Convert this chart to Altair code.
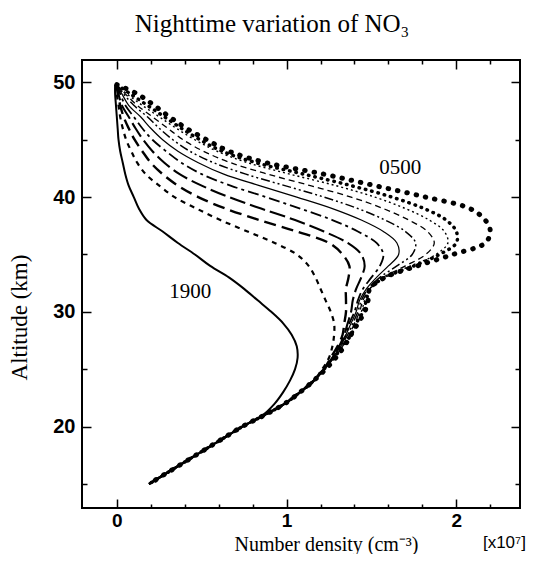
import altair as alt
import pandas as pd

# ---- data ----
series = ["1900", "2000", "2100", "2200", "2300", "0000", "0100", "0200", "0300", "0400", "0500"]

alt_upper = [49.8, 49, 48, 47, 46, 45, 44, 43, 42, 41, 40, 39, 38, 37, 36, 35, 34, 33, 32, 31, 30, 29, 28, 27, 26, 25]
alt_lower = [24, 23, 22, 21, 20, 19, 18, 17, 16, 15]

# number density (x 1e7 cm^-3) at alt_upper
n1900 = [-0.01, -0.01, -0.005, 0.0, 0.005, 0.01, 0.02, 0.035, 0.05, 0.07, 0.10, 0.13, 0.175, 0.27, 0.36, 0.46, 0.55, 0.66, 0.75, 0.83, 0.91, 0.98, 1.03, 1.06, 1.065, 1.05]
n2000 = [0.0, 0.0, 0.01, 0.02, 0.035, 0.055, 0.085, 0.12, 0.17, 0.25, 0.34, 0.47, 0.61, 0.77, 0.93, 1.06, 1.13, 1.17, 1.20, 1.23, 1.26, 1.28, 1.28, 1.27, 1.25, 1.21]
n2100 = [0.0, 0.005, 0.02, 0.04, 0.07, 0.105, 0.15, 0.20, 0.27, 0.36, 0.48, 0.64, 0.84, 1.06, 1.25, 1.33, 1.37, 1.365, 1.35, 1.35, 1.35, 1.34, 1.33, 1.30, 1.26, 1.22]
n2200 = [0.0, 0.01, 0.03, 0.07, 0.11, 0.155, 0.21, 0.28, 0.37, 0.50, 0.66, 0.85, 1.05, 1.22, 1.36, 1.44, 1.46, 1.44, 1.41, 1.39, 1.38, 1.36, 1.34, 1.31, 1.27, 1.22]
n2300 = [0.0, 0.02, 0.05, 0.10, 0.15, 0.21, 0.29, 0.38, 0.50, 0.67, 0.88, 1.08, 1.27, 1.42, 1.53, 1.57, 1.55, 1.50, 1.45, 1.42, 1.40, 1.37, 1.35, 1.31, 1.27, 1.22]
n0000 = [0.0, 0.03, 0.07, 0.14, 0.20, 0.27, 0.36, 0.48, 0.63, 0.84, 1.06, 1.27, 1.44, 1.57, 1.65, 1.66, 1.60, 1.53, 1.47, 1.43, 1.41, 1.38, 1.35, 1.32, 1.27, 1.22]
n0100 = [0.0, 0.04, 0.10, 0.18, 0.25, 0.33, 0.43, 0.57, 0.76, 0.99, 1.22, 1.42, 1.58, 1.70, 1.76, 1.74, 1.65, 1.55, 1.48, 1.44, 1.42, 1.39, 1.36, 1.32, 1.28, 1.22]
n0200 = [0.0, 0.05, 0.12, 0.21, 0.30, 0.39, 0.51, 0.67, 0.89, 1.14, 1.38, 1.57, 1.72, 1.83, 1.87, 1.82, 1.70, 1.57, 1.49, 1.45, 1.43, 1.40, 1.37, 1.33, 1.28, 1.22]
n0300 = [0.0, 0.06, 0.15, 0.25, 0.35, 0.46, 0.59, 0.77, 1.02, 1.29, 1.52, 1.70, 1.84, 1.93, 1.95, 1.88, 1.73, 1.58, 1.49, 1.46, 1.44, 1.40, 1.37, 1.33, 1.28, 1.22]
n0400 = [0.0, 0.08, 0.18, 0.28, 0.38, 0.49, 0.62, 0.82, 1.10, 1.38, 1.62, 1.81, 1.94, 2.00, 2.00, 1.90, 1.75, 1.58, 1.49, 1.47, 1.45, 1.41, 1.38, 1.33, 1.28, 1.22]
n0500 = [0.0, 0.12, 0.22, 0.31, 0.41, 0.53, 0.66, 0.88, 1.22, 1.52, 1.82, 2.08, 2.17, 2.20, 2.17, 1.98, 1.77, 1.58, 1.49, 1.48, 1.46, 1.42, 1.38, 1.34, 1.29, 1.23]

# lower part (alt_lower)
n1900_lower = [1.02, 0.98, 0.93, 0.86, 0.74, 0.63, 0.52, 0.41, 0.30, 0.19]
common_lower = [1.16, 1.08, 0.99, 0.87, 0.74, 0.63, 0.52, 0.41, 0.30, 0.19]

upper = [n1900, n2000, n2100, n2200, n2300, n0000, n0100, n0200, n0300, n0400, n0500]

x_ticks = [0, 1, 2]
x_minor = [0.0, 0.2, 0.4, 0.6, 0.8, 1.0, 1.2, 1.4, 1.6, 1.8, 2.0, 2.2]
y_ticks = [20, 30, 40, 50]
y_minor = [15, 20, 25, 30, 35, 40, 45, 50]

curve_labels = ["1900", "0500"]
curve_label_x = [0.433, 1.67]
curve_label_y = [31.7, 42.57]

# ---- build table ----
rows = []
for name, up in zip(series, upper):
    low = n1900_lower if name == "1900" else common_lower
    for i, (a, v) in enumerate(zip(alt_upper + alt_lower, up + low)):
        rows.append({"series": name, "idx": i, "km": a, "n": v})
df = pd.DataFrame(rows)

W, H = 438, 448
xscale = alt.Scale(domain=[-0.205, 2.375], nice=False, zero=False)
yscale = alt.Scale(domain=[12.9, 51.95], nice=False, zero=False)

styles = {
    "1900": dict(strokeWidth=2.0),
    "2000": dict(strokeWidth=2.2, strokeDash=[5, 5]),
    "2100": dict(strokeWidth=2.4, strokeDash=[12, 6]),
    "2200": dict(strokeWidth=2.1, strokeDash=[16, 5]),
    "2300": dict(strokeWidth=1.8, strokeDash=[11, 4, 3, 4]),
    "0000": dict(strokeWidth=1.2),
    "0100": dict(strokeWidth=1.5, strokeDash=[9, 3, 2, 3, 2, 3]),
    "0200": dict(strokeWidth=1.3, strokeDash=[6, 4]),
    "0300": dict(strokeWidth=1.4, strokeDash=[2, 3]),
    "0400": dict(strokeWidth=3.5, strokeDash=[0.5, 6], strokeCap="round"),
    "0500": dict(strokeWidth=5, strokeDash=[0.5, 9], strokeCap="round"),
}

layers = []
for name in series:
    layers.append(
        alt.Chart()
        .transform_filter(alt.datum.series == name)
        .mark_line(color="black", interpolate="catmull-rom", clip=True, **styles[name])
        .encode(
            x=alt.X("n:Q", scale=xscale, axis=None),
            y=alt.Y("km:Q", scale=yscale, axis=None),
            order="idx:Q",
        )
    )

maj_x = {"condition": {"test": "abs(datum.value - round(datum.value)) < 0.001", "value": 9}, "value": 4}
maj_y = {"condition": {"test": "datum.value % 10 === 0", "value": 9}, "value": 5}

# axis with labels and titles
axis_labels = alt.Chart().mark_point(opacity=0).encode(
    x=alt.X("n:Q", scale=xscale, axis=alt.Axis(
        orient="bottom", values=x_ticks, format="d", ticks=False, domain=False, grid=False,
        labelFont="Liberation Sans", labelFontWeight="bold", labelFontSize=19, labelColor="black",
        labelPadding=3, labelFlush=False,
        title="Number density (cm⁻³)", titleFont="Liberation Serif", titleFontSize=20,
        titleFontWeight="normal", titleColor="black", titleX=244, titleY=42,
        titleAlign="center", titleBaseline="alphabetic")),
    y=alt.Y("km:Q", scale=yscale, axis=alt.Axis(
        orient="left", values=y_ticks, format="d", ticks=False, domain=False, grid=False,
        labelFont="Liberation Sans", labelFontWeight="bold", labelFontSize=20, labelColor="black",
        labelPadding=7,
        title="Altitude (km)", titleFont="Liberation Serif", titleFontSize=23,
        titleFontWeight="normal", titleColor="black", titleAngle=270, titleX=-56, titleY=257,
        titleAlign="center", titleBaseline="alphabetic")),
)

# inward ticks: bottom and left edges
axis_in1 = alt.Chart().mark_point(opacity=0).encode(
    x=alt.X("n:Q", scale=xscale, axis=alt.Axis(
        orient="top", offset=-H, values=x_minor, labels=False, domain=False, grid=False,
        tickSize=maj_x, tickColor="black", tickWidth=1.5, title=None)),
    y=alt.Y("km:Q", scale=yscale, axis=alt.Axis(
        orient="right", offset=-W, values=y_minor, labels=False, domain=False, grid=False,
        tickSize=maj_y, tickColor="black", tickWidth=1.5, title=None)),
)
# inward ticks: top and right edges
axis_in2 = alt.Chart().mark_point(opacity=0).encode(
    x=alt.X("n:Q", scale=xscale, axis=alt.Axis(
        orient="bottom", offset=-H, values=x_minor, labels=False, domain=False, grid=False,
        tickSize=maj_x, tickColor="black", tickWidth=1.5, title=None)),
    y=alt.Y("km:Q", scale=yscale, axis=alt.Axis(
        orient="left", offset=-W, values=y_minor, labels=False, domain=False, grid=False,
        tickSize=maj_y, tickColor="black", tickWidth=1.5, title=None)),
)

lab_df = pd.DataFrame({"label": curve_labels, "n": curve_label_x, "km": curve_label_y})
curve_text = alt.Chart(lab_df).mark_text(
    font="Liberation Serif", fontSize=21, color="black", align="center", baseline="middle"
).encode(
    x=alt.X("n:Q", scale=xscale, axis=None),
    y=alt.Y("km:Q", scale=yscale, axis=None),
    text="label:N",
)

unit_df = pd.DataFrame({"label": ["[x10⁷]"], "n": [2.41], "km": [9.4]})
unit_text = alt.Chart(unit_df).mark_text(
    font="Liberation Sans", fontSize=17, color="black", align="right", baseline="alphabetic"
).encode(
    x=alt.X("n:Q", scale=xscale, axis=None),
    y=alt.Y("km:Q", scale=yscale, axis=None),
    text="label:N",
)

chart = (
    alt.layer(axis_labels, axis_in1, axis_in2, *layers, curve_text, unit_text, data=df)
    .resolve_axis(x="independent", y="independent")
    .properties(
        width=W,
        height=H,
        autosize=alt.AutoSizeParams(type="none"),
        padding={"left": 74, "top": 52, "right": 9, "bottom": 46},
        title=alt.TitleParams(
            text="Nighttime variation of NO₃", font="Liberation Serif", fontSize=25,
            fontWeight="normal", color="black", anchor="middle", frame="group",
            dx=-29, offset=2, baseline="alphabetic"),
    )
    .configure_view(stroke="black", strokeWidth=2)
)

chart.save("out.html", embed_options={"renderer": "svg", "actions": False})
